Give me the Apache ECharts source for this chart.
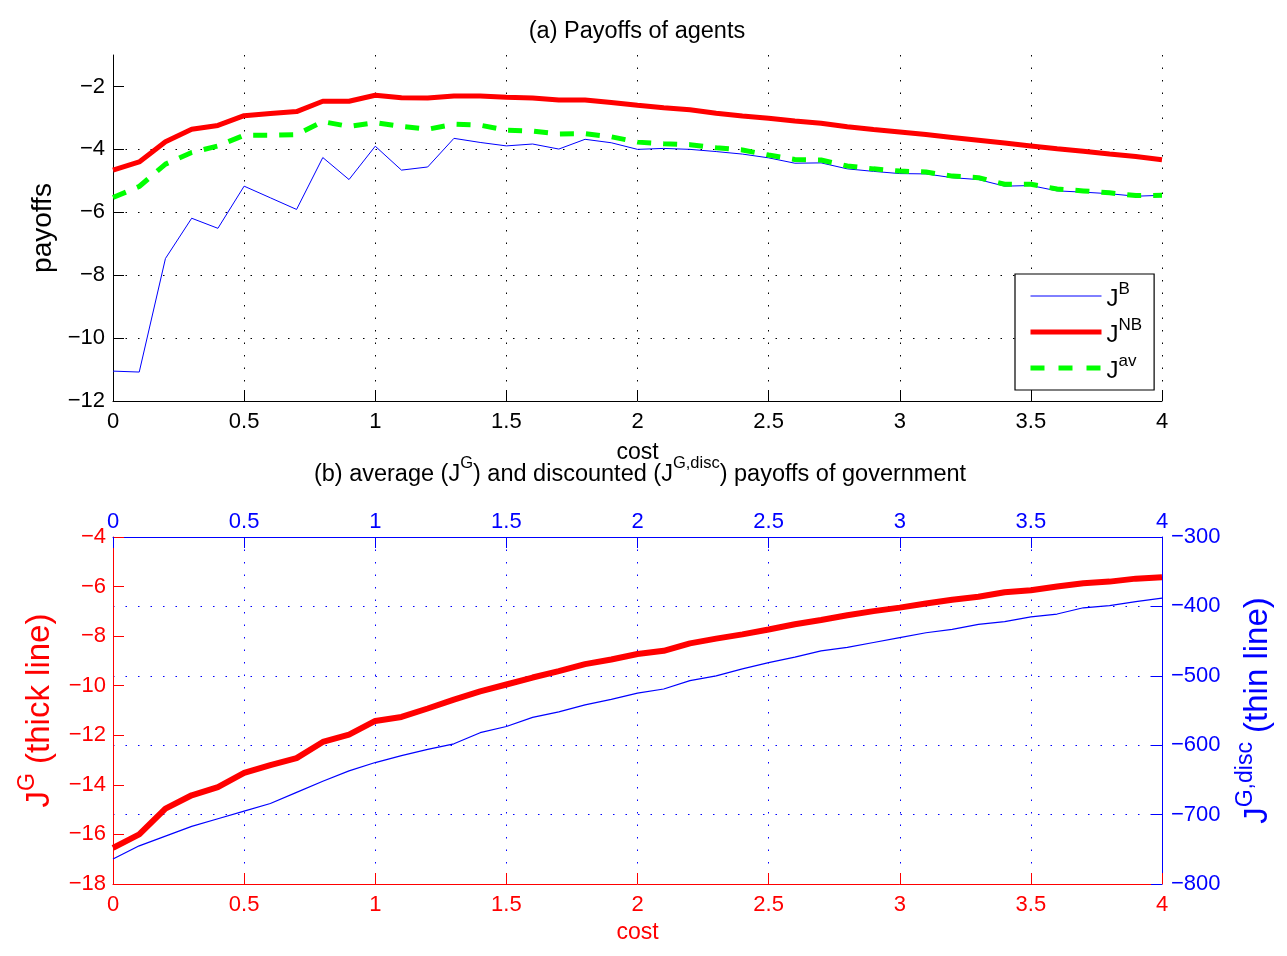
<!DOCTYPE html>
<html>
<head>
<meta charset="utf-8">
<script src="https://cdn.jsdelivr.net/npm/echarts@6/dist/echarts.min.js"></script>
<style>
  html, body { margin: 0; padding: 0; background: #fff; }
  #main { width: 1287px; height: 956px; }
</style>
</head>
<body>
<div id="main"></div>
<script>
// cost grid (x values)
const cost = [0, 0.1, 0.2, 0.3, 0.4, 0.5, 0.6, 0.7, 0.8, 0.9, 1.0, 1.1, 1.2, 1.3, 1.4, 1.5, 1.6, 1.7, 1.8, 1.9,
  2.0, 2.1, 2.2, 2.3, 2.4, 2.5, 2.6, 2.7, 2.8, 2.9, 3.0, 3.1, 3.2, 3.3, 3.4, 3.5, 3.6, 3.7, 3.8, 3.9, 4.0];

// (a) payoffs of agents
const jB = [-11.05, -11.08, -7.47, -6.19, -6.51, -5.17, -5.54, -5.91, -4.26, -4.96, -3.90, -4.66, -4.56, -3.65,
  -3.78, -3.89, -3.83, -3.99, -3.68, -3.79, -4.00, -3.97, -4.00, -4.07, -4.15, -4.27, -4.44, -4.43, -4.62, -4.70,
  -4.77, -4.78, -4.90, -4.96, -5.17, -5.15, -5.32, -5.36, -5.41, -5.49, -5.46];
const jNB = [-4.66, -4.40, -3.76, -3.36, -3.24, -2.93, -2.86, -2.80, -2.47, -2.47, -2.28, -2.36, -2.37, -2.30,
  -2.30, -2.34, -2.37, -2.43, -2.43, -2.51, -2.60, -2.68, -2.74, -2.85, -2.94, -3.01, -3.10, -3.17, -3.28, -3.37,
  -3.45, -3.53, -3.62, -3.71, -3.80, -3.89, -3.98, -4.06, -4.15, -4.23, -4.33];
const jAv = [-5.53, -5.18, -4.47, -4.10, -3.89, -3.55, -3.55, -3.53, -3.12, -3.27, -3.15, -3.27, -3.36, -3.20,
  -3.23, -3.39, -3.42, -3.51, -3.50, -3.60, -3.77, -3.82, -3.85, -3.95, -4.02, -4.18, -4.32, -4.34, -4.53, -4.62,
  -4.69, -4.72, -4.85, -4.90, -5.11, -5.11, -5.26, -5.32, -5.38, -5.47, -5.46];

// (b) government payoffs
const jG = [-16.54, -16.00, -14.96, -14.42, -14.09, -13.52, -13.20, -12.92, -12.27, -11.97, -11.42, -11.26, -10.92,
  -10.56, -10.23, -9.95, -9.67, -9.41, -9.13, -8.94, -8.72, -8.59, -8.29, -8.10, -7.93, -7.73, -7.52, -7.35, -7.16,
  -6.99, -6.85, -6.68, -6.53, -6.41, -6.23, -6.15, -6.00, -5.87, -5.80, -5.68, -5.62];
const jGdisc = [-764, -745, -731, -717, -706, -695, -684, -668, -652, -637, -625, -615, -606, -598, -582, -573,
  -560, -552, -542, -534, -525, -519, -507, -500, -490, -481, -473, -464, -459, -452, -445, -438, -433, -426, -422,
  -415, -411, -402, -399, -393, -388];

const topYTicks = [-12, -10, -8, -6, -4, -2];

const FONT = 'Liberation Sans, Arial, Helvetica, sans-serif';
const pairs = ys => cost.map((c, i) => [c, ys[i]]);
const minus = v => String(v).replace('-', '\u2212');
const dotted = color => ({ show: true, lineStyle: { color: color, width: 1, type: [1.5, 11] } });

const chart = echarts.init(document.getElementById('main'), null, { renderer: 'canvas' });

// rich text styles for superscripts
const supRich = (color, size, supSize, lh) => ({
  t: { fontFamily: FONT, fontSize: size, lineHeight: lh, verticalAlign: 'bottom', color: color },
  s: { fontFamily: FONT, fontSize: supSize, lineHeight: supSize + 1, verticalAlign: 'top', color: color }
});

let option = {
  animation: false,
  backgroundColor: '#fff',
  textStyle: { fontFamily: FONT },
  title: [
    {
      text: '(a) Payoffs of agents',
      left: 637, top: 20, textAlign: 'center', padding: 0,
      textStyle: { fontFamily: FONT, fontSize: 23.5, fontWeight: 'normal', color: '#000' }
    },
    {
      text: '{t|(b) average (J}{s|G}{t|) and discounted (J}{s|G,disc}{t|) payoffs of government}',
      left: 640, top: 455, textAlign: 'center', padding: 0,
      textStyle: { fontSize: 23.5, fontWeight: 'normal', rich: supRich('#000', 23.5, 16.5, 32) }
    }
  ],
  legend: {
    data: [
      { name: 'JB', lineStyle: { width: 1 }, itemStyle: { opacity: 0 } },
      { name: 'JNB', lineStyle: { width: 5 }, itemStyle: { opacity: 0 } },
      { name: 'Jav', lineStyle: { width: 5, type: [14, 14] }, itemStyle: { opacity: 0 } }
    ],
    orient: 'vertical',
    left: 1015, top: 274,
    itemWidth: 71, itemHeight: 10, itemGap: 6,
    padding: [7, 12, 7, 13],
    borderColor: '#000', borderWidth: 1.2, backgroundColor: '#fff',
    formatter: name => '{t|J}{s|' + name.slice(1) + '}',
    textStyle: { rich: supRich('#000', 24, 17, 30) }
  },
  grid: [
    { left: 113, right: 125, top: 55, height: 346 },
    { left: 113, right: 125, top: 537, height: 347 }
  ],
  xAxis: [
    {
      gridIndex: 0, type: 'value', min: 0, max: 4, interval: 0.5,
      name: 'cost', nameLocation: 'middle', nameGap: 40,
      nameTextStyle: { fontFamily: FONT, fontSize: 23, color: '#000' },
      axisLine: { onZero: false, lineStyle: { color: '#000', width: 1 } },
      axisTick: { inside: true, length: 11, lineStyle: { color: '#000' } },
      axisLabel: { margin: 10, fontFamily: FONT, fontSize: 22, color: '#000' },
      splitLine: Object.assign(dotted('#000'), { showMinLine: false })
    },
    {
      gridIndex: 1, type: 'value', min: 0, max: 4, interval: 0.5, position: 'bottom',
      name: 'cost', nameLocation: 'middle', nameGap: 37,
      nameTextStyle: { fontFamily: FONT, fontSize: 23, color: '#f00' },
      axisLine: { onZero: false, lineStyle: { color: '#f00', width: 1 } },
      axisTick: { inside: true, length: 11, lineStyle: { color: '#f00' } },
      axisLabel: { margin: 10, fontFamily: FONT, fontSize: 22, color: '#f00' },
      splitLine: { show: false }
    },
    {
      gridIndex: 1, type: 'value', min: 0, max: 4, interval: 0.5, position: 'top',
      axisLine: { onZero: false, lineStyle: { color: '#00f', width: 1 } },
      axisTick: { inside: true, length: 11, lineStyle: { color: '#00f' } },
      axisLabel: { margin: 4, fontFamily: FONT, fontSize: 22, color: '#00f' },
      splitLine: Object.assign(dotted('#00f'), { showMinLine: false, showMaxLine: false })
    }
  ],
  yAxis: [
    {
      gridIndex: 0, type: 'value', min: -12, max: -1, interval: 2,
      name: 'payoffs', nameLocation: 'middle', nameGap: 56, nameRotate: 90,
      nameTextStyle: { fontFamily: FONT, fontSize: 28, color: '#000' },
      axisLine: { show: true, onZero: false, lineStyle: { color: '#000', width: 1 } },
      axisTick: { show: true, inside: true, length: 11, lineStyle: { color: '#000' }, customValues: topYTicks },
      axisLabel: { margin: 8, fontFamily: FONT, fontSize: 22, color: '#000', formatter: minus, customValues: topYTicks },
      splitLine: Object.assign(dotted('#000'), { showMinLine: false, showMaxLine: false })
    },
    {
      gridIndex: 1, type: 'value', min: -18, max: -4, interval: 2, position: 'left',
      name: '{t|J}{s|G}{t| (thick line)}', nameLocation: 'middle', nameGap: 57, nameRotate: 90,
      nameTextStyle: { rich: supRich('#f00', 33, 23, 40) },
      axisLine: { show: true, onZero: false, lineStyle: { color: '#f00', width: 1 } },
      axisTick: { show: true, inside: true, length: 11, lineStyle: { color: '#f00' } },
      axisLabel: { margin: 7, fontFamily: FONT, fontSize: 22, color: '#f00', formatter: minus },
      splitLine: { show: false }
    },
    {
      gridIndex: 1, type: 'value', min: -800, max: -300, interval: 100, position: 'right',
      name: '{t|J}{s|G,disc}{t| (thin line)}', nameLocation: 'middle', nameGap: 72, nameRotate: 90,
      nameTextStyle: { rich: supRich('#00f', 33, 23, 40) },
      axisLine: { show: true, onZero: false, lineStyle: { color: '#00f', width: 1 } },
      axisTick: { show: true, inside: true, length: 11, lineStyle: { color: '#00f' } },
      axisLabel: { margin: 9, fontFamily: FONT, fontSize: 22, color: '#00f', formatter: minus },
      splitLine: Object.assign(dotted('#00f'), { showMinLine: false, showMaxLine: false })
    }
  ],
  series: [
    {
      name: 'JB', type: 'line', xAxisIndex: 0, yAxisIndex: 0, data: pairs(jB),
      symbol: 'none', lineStyle: { color: '#0000ff', width: 1 }, itemStyle: { color: '#0000ff' }
    },
    {
      name: 'JNB', type: 'line', xAxisIndex: 0, yAxisIndex: 0, data: pairs(jNB),
      symbol: 'none', lineStyle: { color: '#ff0000', width: 5 }, itemStyle: { color: '#ff0000' }
    },
    {
      name: 'Jav', type: 'line', xAxisIndex: 0, yAxisIndex: 0, data: pairs(jAv),
      symbol: 'none', lineStyle: { color: '#00ff00', width: 5, type: [14, 12] }, itemStyle: { color: '#00ff00' }
    },
    {
      name: 'JG', type: 'line', xAxisIndex: 1, yAxisIndex: 1, data: pairs(jG),
      symbol: 'none', lineStyle: { color: '#ff0000', width: 6 }
    },
    {
      name: 'JGdisc', type: 'line', xAxisIndex: 2, yAxisIndex: 2, data: pairs(jGdisc),
      symbol: 'none', lineStyle: { color: '#0000ff', width: 1.2 }
    }
  ]
};

option && chart.setOption(option);
</script>
</body>
</html>
